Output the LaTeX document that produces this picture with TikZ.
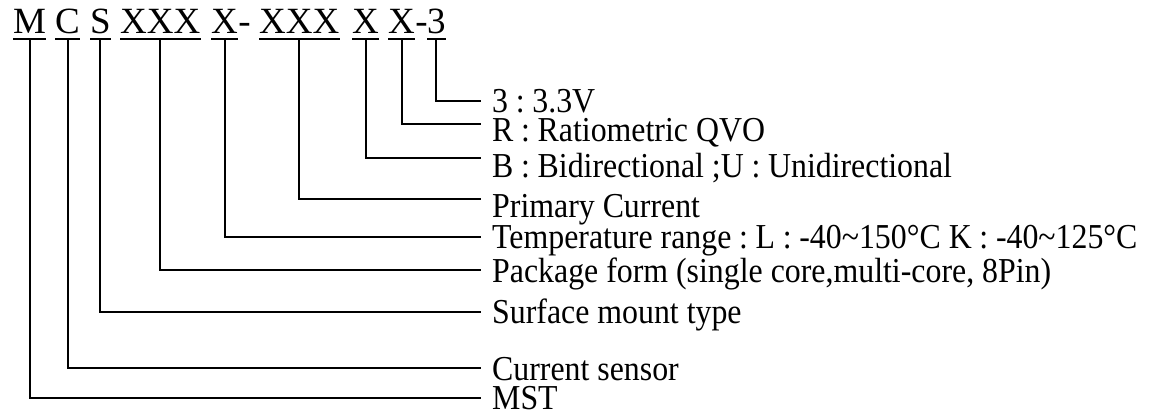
\documentclass[tikz,border=0pt]{standalone}
\usepackage{fontspec}
\setmainfont{Liberation Serif}
\newfontfamily\labfont[FakeStretch=0.91]{Liberation Serif}
\newcommand\fcolon{\hspace{0.22em}:\hspace{0.22em}}
\begin{document}
\begin{tikzpicture}[x=1pt,y=-1pt,
  code/.style={anchor=base west,inner xsep=0pt,inner ysep=5pt,text depth=0pt,font=\fontsize{37}{40}\selectfont},
  lab/.style={anchor=base west,inner sep=0pt,font=\labfont\fontsize{35}{38}\selectfont},
  conn/.style={line width=2pt,line cap=butt,line join=miter}]
\useasboundingbox (0,0) rectangle (1152,412);
% top code
\node[code] (cm)  at (13,34)  {M};
\node[code] (cc)  at (55,34)  {C};
\node[code] (cs)  at (90,34)  {S};
\node[code] (cpk) at (120,34) {XXX};
\node[code] (ct)  at (211,34) {X};
\node[code] (d1)  at (ct.base east) {-};
\node[code] (cpc) at (259,34) {XXX};
\node[code] (cb)  at (352,34) {X};
\node[code] (cr)  at (388,34) {X};
\node[code] (d2)  at (cr.base east) {-};
\node[code] (cv)  at (427,34) {3};
\foreach \n in {cm,cc,cs,cpk,ct,cpc,cb,cr,cv}
  \draw[line width=2pt] (\n.south west) -- (\n.south east);
% labels
\node[lab] (lv) at (492,112) {3\fcolon 3.3V};
\node[lab] (lr) at (492,141) {R\fcolon Ratiometric QVO};
\node[lab] (lb) at (492,177) {B\fcolon Bidirectional ;U\fcolon Unidirectional};
\node[lab] (lp) at (492,217) {Primary Current};
\node[lab] (lt) at (492,248) {Temperature range\fcolon L\fcolon -40\textasciitilde150°C K\fcolon -40\textasciitilde125°C};
\node[lab] (lk) at (492,282) {Package form (single core,multi-core, 8Pin)};
\node[lab] (ls) at (492,323) {Surface mount type};
\node[lab] (lc) at (492,380) {Current sensor};
\node[lab] (lm) at (492,409) {MST};
% line ends
\coordinate (ev) at (481,101);
\coordinate (er) at (481,124);
\coordinate (eb) at (481,158);
\coordinate (ep) at (481,199);
\coordinate (et) at (481,237);
\coordinate (ek) at (481,270);
\coordinate (es) at (481,312);
\coordinate (ec) at (481,368);
\coordinate (em) at (481,398);
% connectors
\draw[conn] (cv.south) |- (ev);
\draw[conn] (cr.south) |- (er);
\draw[conn] (cb.south) |- (eb);
\draw[conn] (cpc.south) |- (ep);
\draw[conn] (ct.south) |- (et);
\draw[conn] (cpk.south) |- (ek);
\draw[conn] (cs.south) |- (es);
\draw[conn] (cc.south) |- (ec);
\draw[conn] (cm.south) |- (em);
\end{tikzpicture}
\end{document}
